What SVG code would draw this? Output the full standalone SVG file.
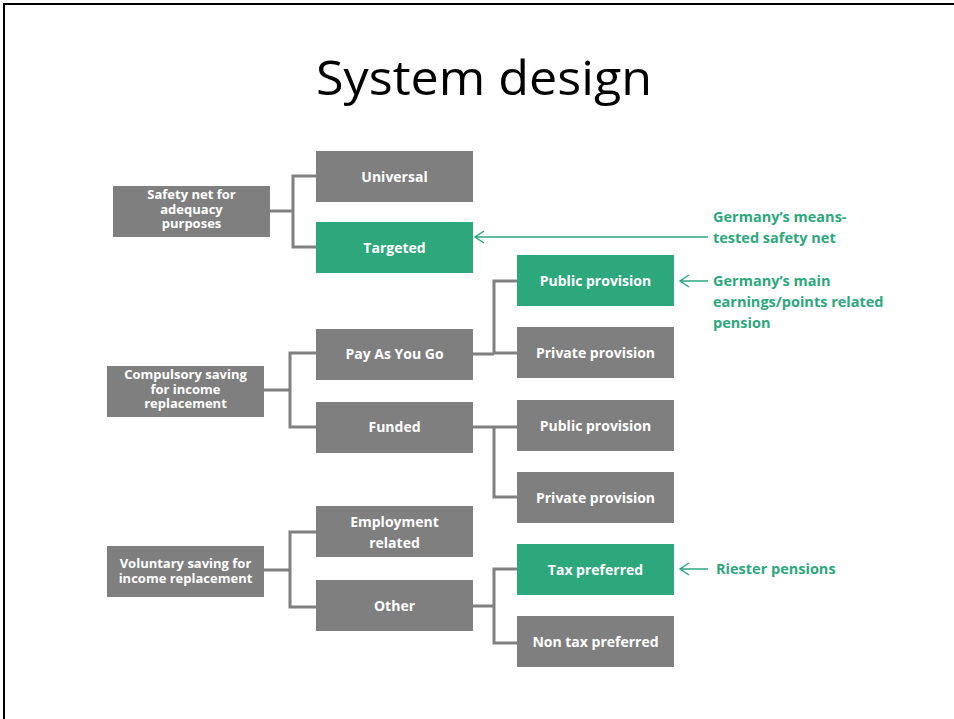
<svg xmlns="http://www.w3.org/2000/svg" width="954" height="719" viewBox="0 0 954 719">
<style>
.g{fill:#7f7f7f}
.gr{fill:#2ca87c}
.t{font-family:"Open Sans","Noto Sans",sans-serif;font-weight:bold;font-size:14px;fill:#fff;text-anchor:middle}
.s{font-size:13px}
.n{font-family:"Open Sans","Noto Sans",sans-serif;font-weight:bold;font-size:14.5px;fill:#2ca87c}
.c{fill:none;stroke:#808080;stroke-width:3}
.a{fill:none;stroke:#2ca87c;stroke-width:1.5}
</style>
<rect width="954" height="719" fill="#fff"/>
<path d="M4,719 V4 H954" fill="none" stroke="#000" stroke-width="2"/>
<text x="484" y="95" text-anchor="middle" font-family="'Open Sans','Noto Sans',sans-serif" font-size="48" textLength="336" lengthAdjust="spacingAndGlyphs" fill="#000">System design</text>
<g id="connectors">
<path class="c" d="M270,211 H293 M316,176 H293 V247 H316"/>
<path class="c" d="M264,390 H290 M316,353 H290 V427 H316"/>
<path class="c" d="M473,354 H494 M517,281 H494 V353 H517"/>
<path class="c" d="M473,427 H517 M494,427 V497 H517"/>
<path class="c" d="M264,570 H290 M316,532 H290 V607 H316"/>
<path class="c" d="M473,606 H494 M517,569 H494 V643 H517"/>
<path class="a" d="M708,237 H475 M484,231 L475,237 L484,243"/>
<path class="a" d="M708,281 H680 M689,275 L680,281 L689,287"/>
<path class="a" d="M708,569 H680 M689,563 L680,569 L689,575"/>
</g>
<g id="safety"><rect class="g" x="113" y="186" width="157" height="51"/><text class="t s"><tspan x="191.5" y="199">Safety net for</tspan><tspan x="191.5" y="213.5">adequacy</tspan><tspan x="191.5" y="228">purposes</tspan></text></g>
<g id="universal"><rect class="g" x="316" y="151" width="157" height="51"/><text class="t" x="394.5" y="182">Universal</text></g>
<g id="targeted"><rect class="gr" x="316" y="222" width="157" height="51"/><text class="t" x="394.5" y="253">Targeted</text></g>
<g id="compulsory"><rect class="g" x="107" y="366" width="157" height="51"/><text class="t s"><tspan x="185.5" y="379">Compulsory  saving</tspan><tspan x="185.5" y="393.5">for income</tspan><tspan x="185.5" y="408">replacement</tspan></text></g>
<g id="payg"><rect class="g" x="316" y="329" width="157" height="51"/><text class="t" x="394.5" y="359">Pay As You Go</text></g>
<g id="funded"><rect class="g" x="316" y="402" width="157" height="51"/><text class="t" x="394.5" y="432">Funded</text></g>
<g id="pub1"><rect class="gr" x="517" y="255" width="157" height="51"/><text class="t" x="595.5" y="286">Public provision</text></g>
<g id="priv1"><rect class="g" x="517" y="327" width="157" height="51"/><text class="t" x="595.5" y="358">Private provision</text></g>
<g id="pub2"><rect class="g" x="517" y="400" width="157" height="51"/><text class="t" x="595.5" y="431">Public provision</text></g>
<g id="priv2"><rect class="g" x="517" y="472" width="157" height="51"/><text class="t" x="595.5" y="503">Private provision</text></g>
<g id="voluntary"><rect class="g" x="107" y="546" width="157" height="51"/><text class="t s"><tspan x="185.5" y="567.5">Voluntary saving for</tspan><tspan x="185.5" y="582.5">income replacement</tspan></text></g>
<g id="employment"><rect class="g" x="316" y="506" width="157" height="51"/><text class="t"><tspan x="394.5" y="527">Employment</tspan><tspan x="394.5" y="548">related</tspan></text></g>
<g id="other"><rect class="g" x="316" y="580" width="157" height="51"/><text class="t" x="394.5" y="611">Other</text></g>
<g id="taxpref"><rect class="gr" x="517" y="544" width="157" height="51"/><text class="t" x="595.5" y="575">Tax preferred</text></g>
<g id="nontax"><rect class="g" x="517" y="616" width="157" height="51"/><text class="t" x="595.5" y="647">Non tax preferred</text></g>
<g id="note1"><text class="n"><tspan x="713" y="222">Germany’s means-</tspan><tspan x="713" y="243">tested safety net</tspan></text></g>
<g id="note2"><text class="n"><tspan x="713" y="286">Germany’s main</tspan><tspan x="713" y="307">earnings/points related</tspan><tspan x="713" y="328">pension</tspan></text></g>
<g id="note3"><text class="n" x="716" y="574">Riester pensions</text></g>
</svg>
